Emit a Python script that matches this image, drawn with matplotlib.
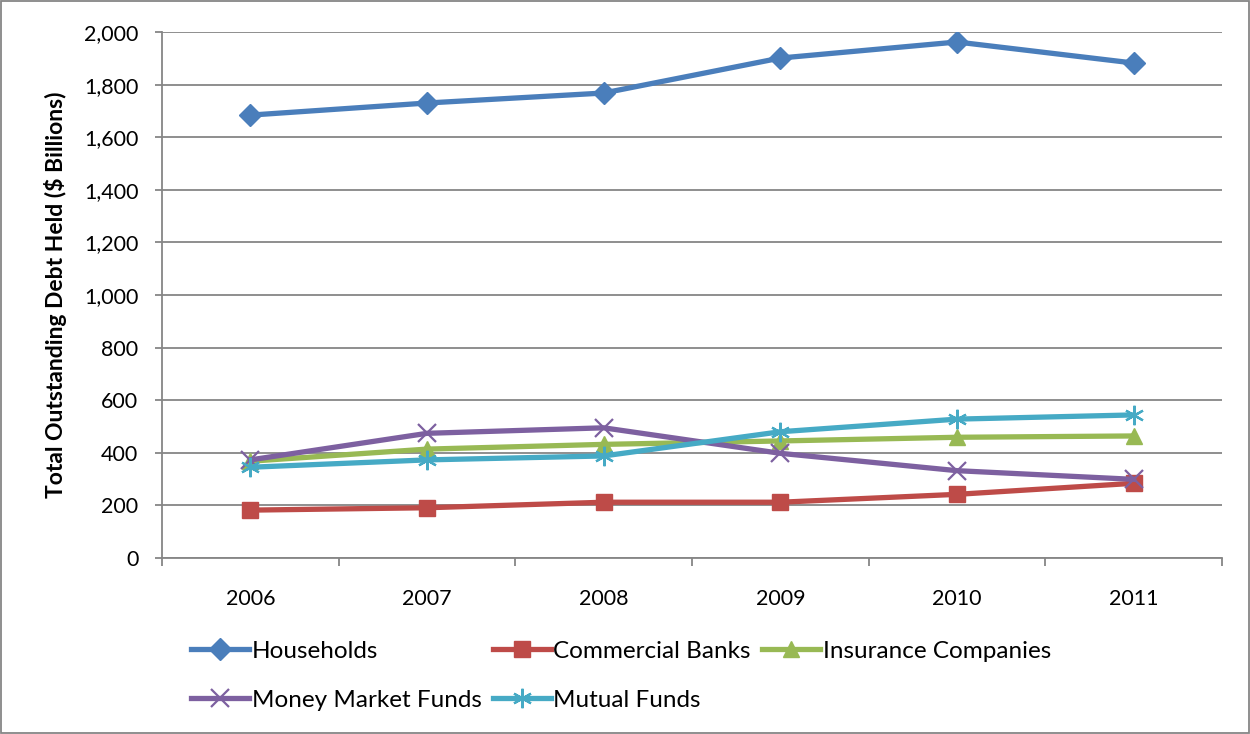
import matplotlib.pyplot as plt
from matplotlib.patches import Rectangle
from matplotlib.ticker import FuncFormatter, FixedLocator

plt.rcParams['font.family'] = ['Lato', 'DejaVu Sans']

years = ['2006', '2007', '2008', '2009', '2010', '2011']
households = [1684, 1730, 1768, 1901, 1962, 1882]
commercial_banks = [182, 191, 212, 212, 242, 284]
insurance = [368, 414, 432, 445, 459, 464]
money_market = [373, 474, 495, 398, 332, 299]
mutual_funds = [345, 373, 388, 480, 528, 544]

series = [
    ('Households', households, '#4a7ebb', 'D', 11),
    ('Commercial Banks', commercial_banks, '#be4b48', 's', 12),
    ('Insurance Companies', insurance, '#98b954', '^', 12),
    ('Money Market Funds', money_market, '#7d60a0', 'x', 13),
    ('Mutual Funds', mutual_funds, '#46aac5', (6, 2, 0), 14),
]

fig = plt.figure(figsize=(12.5, 7.34), dpi=100)
ax = fig.add_axes([0.1296, 0.2398, 0.848, 0.7166])

x = range(len(years))
handles = {}
for name, vals, col, mk, ms in series:
    ln, = ax.plot(x, vals, color=col, lw=3.8, marker=mk, markersize=ms,
                  markeredgewidth=1.6 if mk in ('x', (6, 2, 0)) else 1,
                  markeredgecolor=col, label=name, zorder=3)
    handles[name] = ln

ax.set_xlim(-0.5, len(years) - 0.5)
ax.set_ylim(0, 2000)
ax.set_yticks(range(0, 2001, 200))
ax.yaxis.set_major_formatter(FuncFormatter(lambda v, p: f'{int(v):,}'))
ax.set_xticks(list(x))
ax.set_xticklabels(years)
ax.xaxis.set_minor_locator(FixedLocator([i - 0.5 for i in range(len(years) + 1)]))

ax.grid(axis='y', color='#868686', lw=1.3, zorder=0)
for s in ('top', 'right'):
    ax.spines[s].set_visible(False)
for s in ('left', 'bottom'):
    ax.spines[s].set_color('#868686')
    ax.spines[s].set_linewidth(1.3)

ax.tick_params(axis='y', length=5, width=1.3, color='#868686', pad=12, labelsize=15.5)
ax.tick_params(axis='x', which='major', length=0, pad=22, labelsize=15.5)
ax.tick_params(axis='x', which='minor', length=6, width=1.3, color='#868686')

ax.set_ylabel('Total Outstanding Debt Held ($ Billions)', fontsize=16.5,
              fontweight='bold', labelpad=12)

# Excel lays the legend out row by row; matplotlib fills columns, so reorder
order = ['Households', 'Money Market Funds', 'Commercial Banks',
         'Mutual Funds', 'Insurance Companies']
fig.legend([handles[n] for n in order], order, ncol=3, loc='upper left',
           bbox_to_anchor=(0.145, 0.14), frameon=False, fontsize=17.5,
           handlelength=2.4, handletextpad=0.1, columnspacing=0.45,
           labelspacing=1.15, borderaxespad=0)

fig.patches.append(Rectangle((0.001, 0.001), 0.998, 0.998, transform=fig.transFigure,
                             fill=False, edgecolor='#868686', lw=1.3))

fig.savefig('out.png', dpi=100)
